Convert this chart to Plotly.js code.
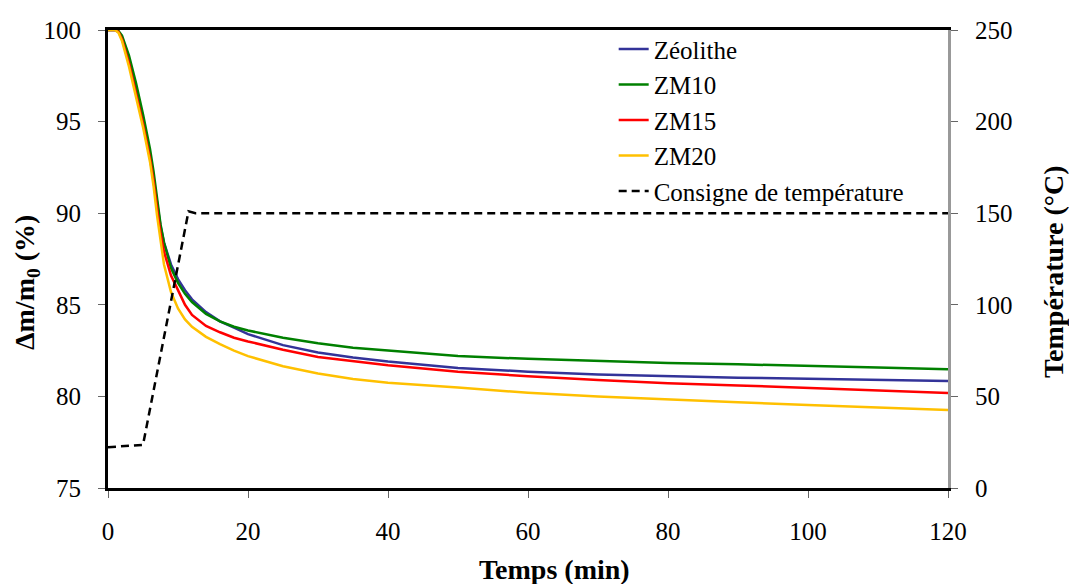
<!DOCTYPE html>
<html>
<head>
<meta charset="utf-8">
<script src="https://cdn.plot.ly/plotly-3.0.1.min.js"></script>
<style>
html,body{margin:0;padding:0;background:#fff;}
#chart{width:1069px;height:584px;}
</style>
</head>
<body>
<div id="chart"></div>
<script>
// Time (min)
const time = [0, 1, 1.5, 2, 3, 4, 5, 6, 6.5, 7, 7.5, 8, 9, 10, 11, 12, 14, 16, 18, 20, 25, 30, 35, 40, 50, 60, 70, 80, 90, 100, 110, 120];
// Δm/m0 (%)
const zeolithe = [100, 100, 99.9, 99.6, 98.4, 96.8, 95.1, 93.2, 92.0, 90.6, 89.3, 88.4, 87.2, 86.4, 85.8, 85.3, 84.6, 84.1, 83.75, 83.4, 82.8, 82.4, 82.12, 81.9, 81.55, 81.35, 81.2, 81.1, 81.02, 80.97, 80.9, 80.84];
const zm10 = [100, 100, 99.95, 99.7, 98.6, 97.1, 95.4, 93.5, 92.3, 90.8, 89.4, 88.4, 87.0, 86.2, 85.6, 85.15, 84.5, 84.1, 83.8, 83.6, 83.2, 82.9, 82.65, 82.5, 82.2, 82.05, 81.93, 81.82, 81.75, 81.68, 81.58, 81.48];
const zm15 = [100, 100, 99.9, 99.5, 98.2, 96.5, 94.9, 93.0, 91.8, 90.3, 88.9, 87.9, 86.6, 85.8, 85.0, 84.45, 83.85, 83.5, 83.2, 83.0, 82.55, 82.15, 81.93, 81.7, 81.35, 81.1, 80.9, 80.72, 80.6, 80.47, 80.33, 80.19];
const zm20 = [100, 100, 99.85, 99.4, 98.0, 96.3, 94.7, 92.8, 91.5, 89.9, 88.4, 87.2, 85.7, 84.8, 84.2, 83.8, 83.25, 82.85, 82.5, 82.2, 81.65, 81.25, 80.95, 80.75, 80.48, 80.2, 80.0, 79.82, 79.68, 79.53, 79.4, 79.26];
// Temperature setpoint (°C)
const consigneTime = [0, 5, 11.5, 12.5, 120];
const consigneTemp = [22.3, 23.5, 151, 150, 150];

const names = ['Zéolithe', 'ZM10', 'ZM15', 'ZM20', 'Consigne de température'];
const colors = ['#333399', '#008000', '#FF0000', '#FFC000', '#000000'];
const xTitle = 'Temps (min)';
const yTitle = 'Δm/m<sub>0</sub> (%)';
const y2Title = 'Température (°C)';

const serif = 'Liberation Serif, Times New Roman, serif';

const traces = [
  {x: time, y: zeolithe, name: names[0], mode: 'lines', line: {color: colors[0], width: 2.5}},
  {x: time, y: zm10, name: names[1], mode: 'lines', line: {color: colors[1], width: 2.5}},
  {x: time, y: zm15, name: names[2], mode: 'lines', line: {color: colors[2], width: 2.5}},
  {x: time, y: zm20, name: names[3], mode: 'lines', line: {color: colors[3], width: 2.5}},
  {x: consigneTime, y: consigneTemp, name: names[4], mode: 'lines', yaxis: 'y2',
   line: {color: colors[4], width: 2.5, dash: '8px,5px'}}
];

const tickFont = {family: serif, size: 25, color: '#000'};
const titleFont = {family: serif, size: 28, color: '#000'};

const layout = {
  width: 1069, height: 584,
  margin: {l: 108, r: 121, t: 30, b: 96},
  paper_bgcolor: '#fff', plot_bgcolor: '#fff',
  font: {family: serif, size: 25, color: '#000'},
  showlegend: true,
  legend: {
    x: 0.602, y: 1.008, xanchor: 'left', yanchor: 'top',
    bgcolor: 'rgba(255,255,255,0)', borderwidth: 0,
    font: {family: serif, size: 25, color: '#000'},
    tracegroupgap: 0
  },
  xaxis: {
    range: [0, 120], tickvals: [0, 20, 40, 60, 80, 100, 120],
    showline: true, linecolor: '#000', linewidth: 3, mirror: true,
    ticks: 'outside', ticklen: 7, tickwidth: 1, tickcolor: '#666',
    ticklabelstandoff: 12,
    showgrid: false, zeroline: false, tickfont: tickFont
  },
  yaxis: {
    range: [75, 100], tickvals: [75, 80, 85, 90, 95, 100],
    showline: true, linecolor: '#000', linewidth: 3,
    ticks: 'outside', ticklen: 7, tickwidth: 1, tickcolor: '#666',
    ticklabelstandoff: 12,
    showgrid: false, zeroline: false, tickfont: tickFont
  },
  yaxis2: {
    range: [0, 250], tickvals: [0, 50, 100, 150, 200, 250],
    overlaying: 'y', side: 'right', anchor: 'x',
    showline: true, linecolor: '#999', linewidth: 3,
    ticks: 'outside', ticklen: 7, tickwidth: 1, tickcolor: '#666',
    ticklabelstandoff: 12,
    showgrid: false, zeroline: false, tickfont: tickFont
  },
  annotations: [
    {text: '<b>' + xTitle + '</b>', xref: 'paper', yref: 'paper', x: 0.531, y: -0.179,
     xanchor: 'center', yanchor: 'middle', showarrow: false, font: titleFont},
    {text: '<b>' + yTitle + '</b>', xref: 'paper', yref: 'paper', x: -0.0964, y: 0.4476,
     xanchor: 'center', yanchor: 'middle', textangle: -90, showarrow: false, font: titleFont},
    {text: '<b>' + y2Title + '</b>', xref: 'paper', yref: 'paper', x: 1.1250, y: 0.4716,
     xanchor: 'center', yanchor: 'middle', textangle: -90, showarrow: false, font: titleFont}
  ]
};

Plotly.newPlot('chart', traces, layout, {displayModeBar: false, staticPlot: true});
</script>
</body>
</html>
